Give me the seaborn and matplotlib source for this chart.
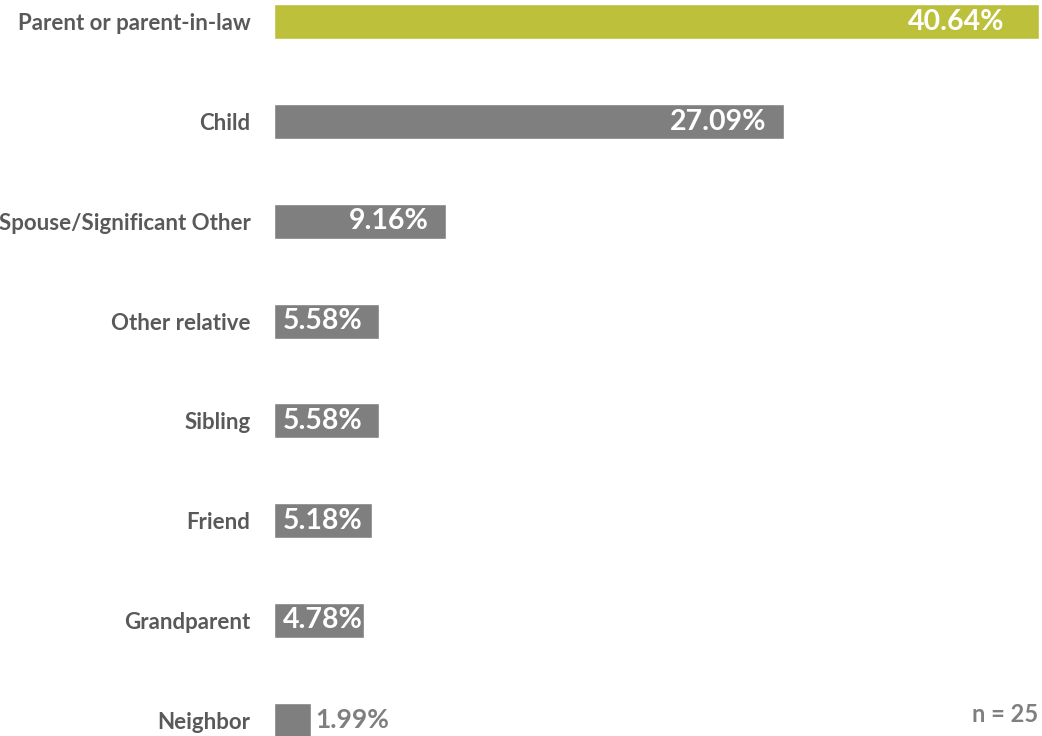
import pandas as pd
import seaborn as sns
import matplotlib.pyplot as plt

# data
categories = ['Parent or parent-in-law', 'Child', 'Spouse/Significant Other',
              'Other relative', 'Sibling', 'Friend', 'Grandparent', 'Neighbor']
shares = [40.64, 27.09, 9.16, 5.58, 5.58, 5.18, 4.78, 1.99]
value_labels = ['40.64%', '27.09%', '9.16%', '5.58%', '5.58%', '5.18%', '4.78%', '1.99%']
sample_note = 'n = 25'

df = pd.DataFrame({'who': categories, 'share': shares})

sns.set_style('white')
plt.rcParams['font.family'] = ['Lato', 'DejaVu Sans']
plt.rcParams['font.weight'] = 'bold'

green = '#bdc03a'
grey = '#7f7f7f'
colors = [green] + [grey] * (len(categories) - 1)

fig = plt.figure(figsize=(10.42, 7.36), dpi=100)
ax = fig.add_axes([274 / 1042, 0, 1 - 274 / 1042, 1])

sns.barplot(data=df, x='share', y='who', hue='who', palette=colors,
            width=0.35, legend=False, ax=ax, saturation=1)

ax.set_xlim(0, 40.8)
ax.set_ylim(7.16, -0.22)
ax.set_xlabel('')
ax.set_ylabel('')
ax.set_xticks([])
sns.despine(ax=ax, left=True, bottom=True)
ax.tick_params(axis='y', length=0, pad=17)
for lab in ax.get_yticklabels():
    lab.set_fontsize(16)
    lab.set_fontweight('bold')
    lab.set_color('#595959')

# value labels
for i, (v, txt) in enumerate(zip(shares, value_labels)):
    if v < 3:
        ax.annotate(txt, (v, i), xytext=(3, 0), textcoords='offset points',
                    ha='left', va='center', fontsize=19, fontweight='bold', color=grey)
    elif v < 6:
        ax.annotate(txt, (0, i), xytext=(6.5, 0), textcoords='offset points',
                    ha='left', va='center', fontsize=20.5, fontweight='bold', color='white')
    else:
        pad = -25 if i == 0 else -12.5
        ax.annotate(txt, (v, i), xytext=(pad, 0), textcoords='offset points',
                    ha='right', va='center', fontsize=20.5, fontweight='bold', color='white')

fig.text(1038 / 1042, 1 - 715 / 736, sample_note, ha='right', va='center',
         fontsize=17, fontweight='bold', color=grey)

fig.savefig('out.png', dpi=100)
